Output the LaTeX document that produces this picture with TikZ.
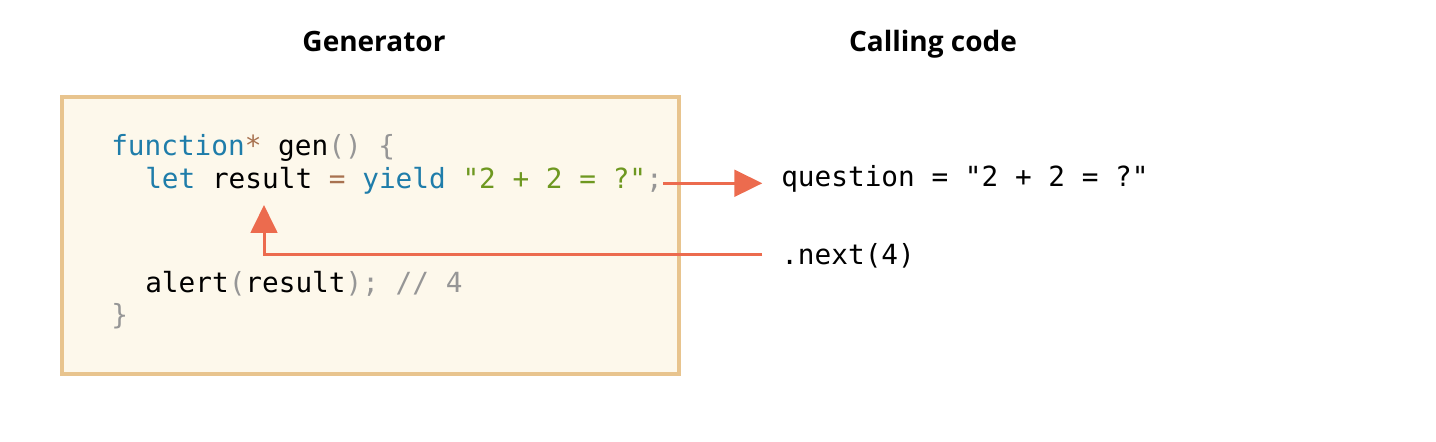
\documentclass[tikz,border=0pt]{standalone}
\usepackage{fontspec}
\usetikzlibrary{arrows.meta}
\newfontfamily\codefont{DejaVu Sans Mono}
\newfontfamily\headfont{Open Sans}
\definecolor{boxline}{RGB}{232,196,142}
\definecolor{boxfill}{RGB}{253,248,235}
\definecolor{flowred}{RGB}{236,107,78}
\definecolor{kw}{RGB}{31,125,170}
\definecolor{op}{RGB}{168,114,80}
\definecolor{str}{RGB}{110,152,32}
\definecolor{pn}{RGB}{150,150,150}
\tikzset{
  code/.style={anchor=base west, inner sep=0pt, font=\codefont\fontsize{20.8}{25}\selectfont},
  head/.style={anchor=base, inner sep=0pt, font=\headfont\bfseries\fontsize{21}{25}\selectfont},
  flow/.style={draw=flowred, line width=2.25pt, -{Triangle[length=21pt,width=20pt]}}
}
\begin{document}
\begin{tikzpicture}[x=0.75pt,y=-0.75pt]
\useasboundingbox (0,0) rectangle (1436,442);

\begin{scope}
\coordinate (a) at (62,97);
\coordinate (c) at (679,374);
\coordinate (tip) at (264,205);

\draw[draw=boxline, fill=boxfill, line width=2.4pt] (a) rectangle (c);

\node[head] (gen) at (374,52) {Generator};
\node[head] (calling) at (933,52) {Calling code};

\node[code] (line1) at (111,156) {\textcolor{kw}{function}\textcolor{op}{*} gen\textcolor{pn}{()} \textcolor{pn}{\{}};
\node[code] (line2) at (145,189) {\textcolor{kw}{let} result \textcolor{op}{=} \textcolor{kw}{yield} \textcolor{str}{"2 + 2 = ?"}\textcolor{pn}{;}};
\node[code] (line5) at (145,292) {alert\textcolor{pn}{(}result\textcolor{pn}{);} \textcolor{pn}{// 4}};
\node[code] (line6) at (111,325) {\textcolor{pn}{\}}};

\node[code] (question) at (781,187) {question = "2 + 2 = ?"};
\node[code] (next) at (781,265) {.next(4)};

\draw[flow] ([yshift=-1.5pt]line2.east) -- ([yshift=-1.5pt]line2.east -| question.west) [shorten >=14pt];
\draw[flow, shorten <=14pt] ([yshift=1.5pt]next.west) -| (tip);
\end{scope}

\end{tikzpicture}
\end{document}
